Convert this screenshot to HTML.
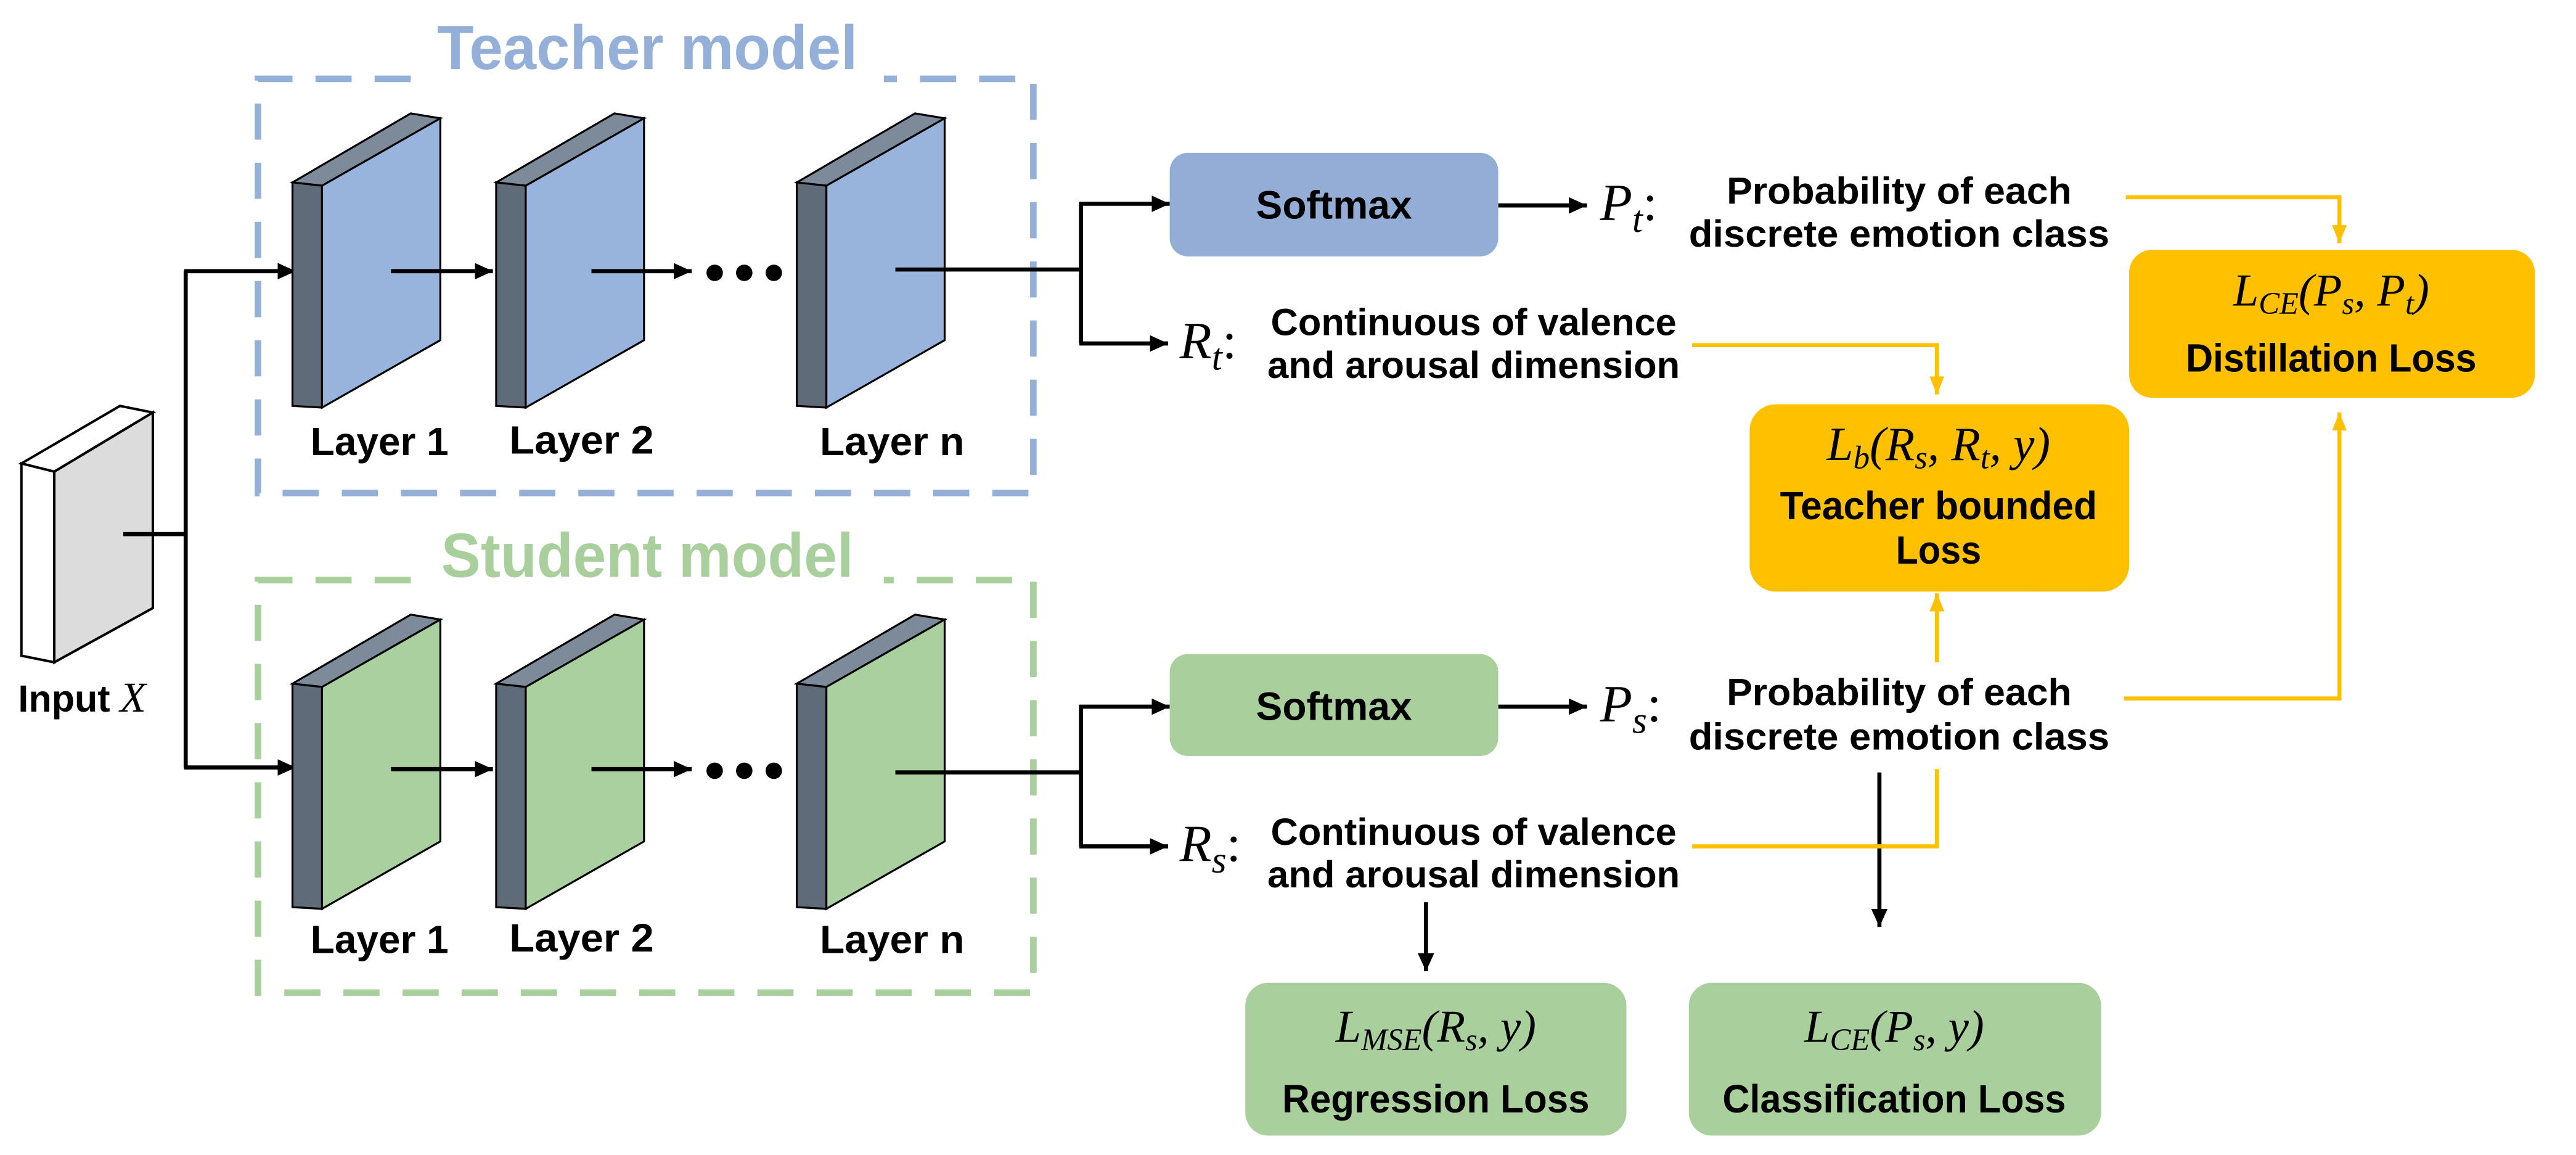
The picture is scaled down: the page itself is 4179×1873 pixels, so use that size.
<!DOCTYPE html>
<html><head><meta charset="utf-8"><style>
html,body{margin:0;padding:0;background:#fff;}
svg{display:block;}
.t{font-family:"Liberation Sans",sans-serif;font-weight:bold;fill:#000;}
.m{font-family:"Liberation Serif",serif;font-style:italic;fill:#000;}
</style></head><body>
<svg width="4179" height="1873" viewBox="0 0 1568 702.8" xmlns="http://www.w3.org/2000/svg">
<defs>
<marker id="ab" markerUnits="userSpaceOnUse" markerWidth="12" markerHeight="12" refX="11" refY="6" orient="auto"><path d="M0,1 L11,6 L0,11 z" fill="#000"/></marker>
<marker id="ay" markerUnits="userSpaceOnUse" markerWidth="12" markerHeight="12" refX="11" refY="6" orient="auto"><path d="M0,1.5 L11,6 L0,10.5 z" fill="#ffc000"/></marker>
<g id="layerT">
<polygon points="0,0 72,-42 90,-39 18,2" fill="#7d8a99" stroke="#000" stroke-width="1.2"/>
<polygon points="0,0 18,2 18,137 0,136" fill="#5f6b78" stroke="#000" stroke-width="1.2"/>
</g>
</defs>
<text x="394" y="42" class="t" font-size="38" style="fill:#94b0d8" text-anchor="middle" textLength="256" lengthAdjust="spacingAndGlyphs">Teacher model</text>
<text x="394" y="351" class="t" font-size="38" style="fill:#a9cf9d" text-anchor="middle" textLength="251" lengthAdjust="spacingAndGlyphs">Student model</text>
<path d="M250,48 L157,48 L157,300 L629,300 L629,48 L538,48" fill="none" stroke="#94b0d8" stroke-width="4" stroke-dasharray="22,14"/>
<path d="M250,353 L157,353 L157,604 L629,604 L629,353 L538,353" fill="none" stroke="#a9cf9d" stroke-width="4" stroke-dasharray="22,14"/>
<polygon points="13,282 73,247 93,251 33,287" fill="#fff" stroke="#000" stroke-width="1.5"/>
<polygon points="13,282 33,287 33,403 13,399" fill="#fff" stroke="#000" stroke-width="1.5"/>
<polygon points="33,287 93,251 93,370 33,403" fill="#dcdcdc" stroke="#000" stroke-width="1.5"/>
<text x="11" y="433" class="t" font-size="23" textLength="56" lengthAdjust="spacingAndGlyphs">Input</text>
<text x="73" y="433" class="m" font-size="26">X</text>
<path d="M75,325 L113,325 M113,165 L113,467" stroke="#000" stroke-width="2.5" fill="none"/>
<path d="M112,165 L180,165" stroke="#000" stroke-width="2.5" marker-end="url(#ab)"/>
<path d="M112,467 L180,467" stroke="#000" stroke-width="2.5" marker-end="url(#ab)"/>
<g transform="translate(178,111)"><use href="#layerT"/><polygon points="18,2 90,-39 90,96 18,137" fill="#98b4dc" stroke="#000" stroke-width="1.2"/></g>
<g transform="translate(302,111)"><use href="#layerT"/><polygon points="18,2 90,-39 90,96 18,137" fill="#98b4dc" stroke="#000" stroke-width="1.2"/></g>
<g transform="translate(485,111)"><use href="#layerT"/><polygon points="18,2 90,-39 90,96 18,137" fill="#98b4dc" stroke="#000" stroke-width="1.2"/></g>
<g transform="translate(178,416)"><use href="#layerT"/><polygon points="18,2 90,-39 90,96 18,137" fill="#a9d09e" stroke="#000" stroke-width="1.2"/></g>
<g transform="translate(302,416)"><use href="#layerT"/><polygon points="18,2 90,-39 90,96 18,137" fill="#a9d09e" stroke="#000" stroke-width="1.2"/></g>
<g transform="translate(485,416)"><use href="#layerT"/><polygon points="18,2 90,-39 90,96 18,137" fill="#a9d09e" stroke="#000" stroke-width="1.2"/></g>
<g stroke="#000" stroke-width="2.5">
<line x1="238" y1="165" x2="300" y2="165" marker-end="url(#ab)"/>
<line x1="360" y1="165" x2="421" y2="165" marker-end="url(#ab)"/>
<line x1="238" y1="468" x2="300" y2="468" marker-end="url(#ab)"/>
<line x1="360" y1="468" x2="421" y2="468" marker-end="url(#ab)"/>
</g>
<g fill="#000">
<circle cx="435" cy="166" r="5"/><circle cx="453" cy="166" r="5"/><circle cx="471" cy="166" r="5"/>
<circle cx="435" cy="469" r="5"/><circle cx="453" cy="469" r="5"/><circle cx="471" cy="469" r="5"/>
</g>
<g class="t" font-size="24">
<text x="189" y="277" textLength="84" lengthAdjust="spacingAndGlyphs">Layer 1</text>
<text x="310" y="276" textLength="88" lengthAdjust="spacingAndGlyphs">Layer 2</text>
<text x="499" y="277" textLength="88" lengthAdjust="spacingAndGlyphs">Layer n</text>
<text x="189" y="580" textLength="84" lengthAdjust="spacingAndGlyphs">Layer 1</text>
<text x="310" y="579" textLength="88" lengthAdjust="spacingAndGlyphs">Layer 2</text>
<text x="499" y="580" textLength="88" lengthAdjust="spacingAndGlyphs">Layer n</text>
</g>
<g stroke="#000" stroke-width="2.5" fill="none">
<path d="M545,164 L658,164 M658,123 L658,209"/>
<line x1="657" y1="124" x2="712" y2="124" marker-end="url(#ab)"/>
<line x1="657" y1="209" x2="711" y2="209" marker-end="url(#ab)"/>
<path d="M545,470 L658,470 M658,429 L658,515"/>
<line x1="657" y1="430" x2="712" y2="430" marker-end="url(#ab)"/>
<line x1="657" y1="515" x2="711" y2="515" marker-end="url(#ab)"/>
<line x1="912" y1="125" x2="966" y2="125" marker-end="url(#ab)"/>
<line x1="912" y1="430" x2="966" y2="430" marker-end="url(#ab)"/>
<line x1="1144" y1="470" x2="1144" y2="564" marker-end="url(#ab)"/>
<line x1="868" y1="549" x2="868" y2="591" marker-end="url(#ab)"/>
</g>
<rect x="712" y="93" width="200" height="63" rx="11" fill="#94add6"/>
<text x="812" y="133" class="t" font-size="24" text-anchor="middle" textLength="95" lengthAdjust="spacingAndGlyphs">Softmax</text>
<rect x="712" y="398" width="200" height="62" rx="11" fill="#a9cf9d"/>
<text x="812" y="438" class="t" font-size="24" text-anchor="middle" textLength="95" lengthAdjust="spacingAndGlyphs">Softmax</text>
<text x="974" y="134" class="m" font-size="32">P<tspan font-size="23" dy="7">t</tspan><tspan font-style="normal" dy="-7">:</tspan></text>
<text x="974" y="439" class="m" font-size="32">P<tspan font-size="23" dy="7">s</tspan><tspan font-style="normal" dy="-7">:</tspan></text>
<text x="718" y="218" class="m" font-size="32">R<tspan font-size="23" dy="7">t</tspan><tspan font-style="normal" dy="-7">:</tspan></text>
<text x="718" y="524" class="m" font-size="32">R<tspan font-size="23" dy="7">s</tspan><tspan font-style="normal" dy="-7">:</tspan></text>
<g class="t" font-size="23" text-anchor="middle">
<text x="1156" y="124" textLength="210" lengthAdjust="spacingAndGlyphs">Probability of each</text>
<text x="1156" y="150" textLength="256" lengthAdjust="spacingAndGlyphs">discrete emotion class</text>
<text x="1156" y="429" textLength="210" lengthAdjust="spacingAndGlyphs">Probability of each</text>
<text x="1156" y="456" textLength="256" lengthAdjust="spacingAndGlyphs">discrete emotion class</text>
<text x="897" y="204" textLength="247" lengthAdjust="spacingAndGlyphs">Continuous of valence</text>
<text x="897" y="230" textLength="251" lengthAdjust="spacingAndGlyphs">and arousal dimension</text>
<text x="897" y="514" textLength="247" lengthAdjust="spacingAndGlyphs">Continuous of valence</text>
<text x="897" y="540" textLength="251" lengthAdjust="spacingAndGlyphs">and arousal dimension</text>
</g>
<g stroke="#ffc000" stroke-width="2.5" fill="none">
<path d="M1294,120 L1424,120 L1424,148" marker-end="url(#ay)"/>
<path d="M1030,210 L1179,210 L1179,240" marker-end="url(#ay)"/>
<path d="M1179,403 L1179,361" marker-end="url(#ay)"/>
<path d="M1030,515 L1179,515 L1179,468"/>
<path d="M1293,425 L1424,425 L1424,251" marker-end="url(#ay)"/>
</g>
<rect x="1296" y="152" width="247" height="90" rx="14" fill="#ffc000"/>
<text x="1419" y="186" class="m" font-size="28" text-anchor="middle">L<tspan font-size="19" dy="5">CE</tspan><tspan dy="-5">(P</tspan><tspan font-size="19" dy="5">s</tspan><tspan dy="-5">, P</tspan><tspan font-size="19" dy="5">t</tspan><tspan dy="-5">)</tspan></text>
<text x="1419" y="226" class="t" font-size="24" text-anchor="middle" textLength="177" lengthAdjust="spacingAndGlyphs">Distillation Loss</text>
<rect x="1065" y="246" width="231" height="114" rx="16" fill="#ffc000"/>
<text x="1180" y="280" class="m" font-size="29" text-anchor="middle">L<tspan font-size="20" dy="5">b</tspan><tspan dy="-5">(R</tspan><tspan font-size="20" dy="5">s</tspan><tspan dy="-5">, R</tspan><tspan font-size="20" dy="5">t</tspan><tspan dy="-5">, y)</tspan></text>
<text x="1180" y="316" class="t" font-size="24" text-anchor="middle" textLength="193" lengthAdjust="spacingAndGlyphs">Teacher bounded</text>
<text x="1180" y="343" class="t" font-size="24" text-anchor="middle" textLength="52" lengthAdjust="spacingAndGlyphs">Loss</text>
<rect x="758" y="598" width="232" height="93" rx="14" fill="#a9cf9d"/>
<text x="874" y="634" class="m" font-size="28" text-anchor="middle">L<tspan font-size="19" dy="5">MSE</tspan><tspan dy="-5">(R</tspan><tspan font-size="19" dy="5">s</tspan><tspan dy="-5">, y)</tspan></text>
<text x="874" y="677" class="t" font-size="24" text-anchor="middle" textLength="187" lengthAdjust="spacingAndGlyphs">Regression Loss</text>
<rect x="1028" y="598" width="251" height="93" rx="14" fill="#a9cf9d"/>
<text x="1153" y="634" class="m" font-size="28" text-anchor="middle">L<tspan font-size="19" dy="5">CE</tspan><tspan dy="-5">(P</tspan><tspan font-size="19" dy="5">s</tspan><tspan dy="-5">, y)</tspan></text>
<text x="1153" y="677" class="t" font-size="24" text-anchor="middle" textLength="209" lengthAdjust="spacingAndGlyphs">Classification Loss</text>
</svg>
</body></html>
